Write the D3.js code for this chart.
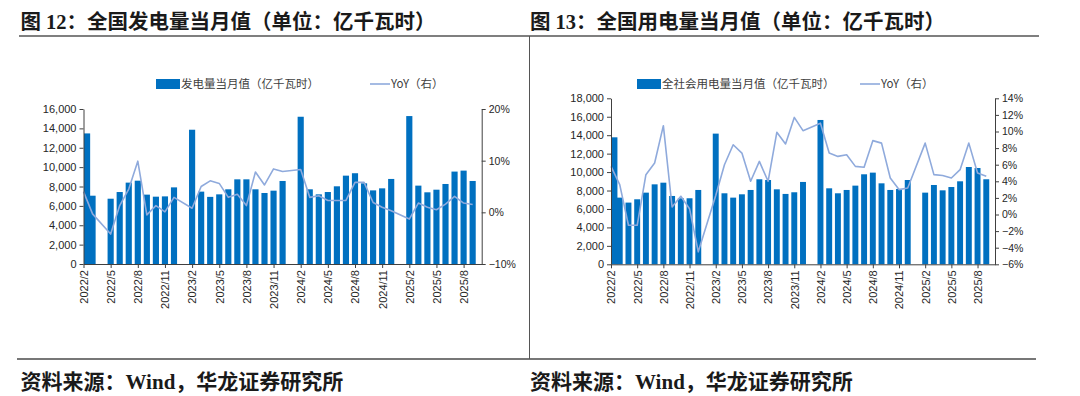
<!DOCTYPE html>
<html>
<head>
<meta charset="utf-8">
<script src="https://cdn.jsdelivr.net/npm/d3@7"></script>
<style>
  html, body { margin: 0; padding: 0; background: #fff; }
  svg { display: block; }
  .title { font-family: "Liberation Serif", "Noto Sans CJK SC", serif; font-weight: 700; font-size: 20.5px; fill: #1a1a1a; }
  .source { font-family: "Liberation Serif", "Noto Sans CJK SC", serif; font-weight: 700; font-size: 21px; fill: #1a1a1a; }
  .legend { font-family: "Noto Sans CJK SC", sans-serif; font-size: 11.5px; fill: #404040; }
  .axis text { font-family: "Liberation Sans", Arial, sans-serif; font-size: 11px; fill: #262626; }
  .axis.right text { font-size: 10.5px; }
  .axis path, .axis line { stroke: #404040; }
</style>
</head>
<body>
<svg id="chart" width="1080" height="396"></svg>
<script>
// Monthly categories, 2022/2 .. 2025/9 (January is merged into February, so it is blank).
const months = [
  "2022/2", "2022/3", "2022/4", "2022/5", "2022/6", "2022/7", "2022/8", "2022/9", "2022/10", "2022/11", "2022/12",
  "2023/1", "2023/2", "2023/3", "2023/4", "2023/5", "2023/6", "2023/7", "2023/8", "2023/9", "2023/10", "2023/11", "2023/12",
  "2024/1", "2024/2", "2024/3", "2024/4", "2024/5", "2024/6", "2024/7", "2024/8", "2024/9", "2024/10", "2024/11", "2024/12",
  "2025/1", "2025/2", "2025/3", "2025/4", "2025/5", "2025/6", "2025/7", "2025/8", "2025/9"
];
const tickMonths = [
  "2022/2", "2022/5", "2022/8", "2022/11", "2023/2", "2023/5", "2023/8", "2023/11",
  "2024/2", "2024/5", "2024/8", "2024/11", "2025/2", "2025/5", "2025/8"
];

// Fig 12: power generation, 亿千瓦时, and YoY %.
const genValues = [
  13480, 7050, null, 6740, 7430, 8400, 8600, 7160, 6950, 6980, 7910,
  null, 13860, 7470, 6930, 7190, 7710, 8740, 8740, 7710, 7330, 7570, 8570,
  null, 15200, 7710, 7190, 7430, 8020, 9120, 9370, 8330, 7600, 7810, 8780,
  null, 15270, 8090, 7400, 7670, 8260, 9540, 9640, 8570
];
const genYoY = [
  4.0, -0.3, null, -4.2, 1.3, 4.5, 9.9, -0.5, 1.3, 0.1, 2.9,
  null, 0.8, 5.0, 6.1, 5.6, 2.9, 3.5, 1.3, 7.8, 5.3, 8.4, 7.9,
  null, 8.3, 2.9, 3.2, 2.3, 2.3, 2.3, 5.8, 5.8, 1.9, 1.0, 0.3,
  null, -1.3, 1.8, 1.0, 0.5, 1.6, 3.1, 1.8, 1.5
];

// Fig 13: electricity consumption, 亿千瓦时, and YoY %.
const useValues = [
  13770, 7230, 6690, 7050, 7770, 8670, 8850, 7410, 7160, 7160, 8060,
  null, 14170, 7700, 7230, 7590, 8060, 9220, 9140, 8130, 7630, 7810, 8930,
  null, 15650, 8240, 7700, 8060, 8530, 9760, 9940, 8780, 8060, 8170, 9140,
  null, 7770, 8600, 8020, 8380, 9000, 10550, 10440, 9220
];
const useYoY = [
  5.8, 3.6, -1.3, -1.3, 4.8, 6.2, 10.7, 0.9, 2.2, 0.7, -4.5,
  null, 2.3, 6.0, 8.4, 7.4, 4.0, 6.4, 4.0, 9.9, 8.5, 11.7, 10.1,
  null, 11.0, 7.4, 7.0, 7.2, 5.8, 5.7, 8.9, 8.6, 4.4, 3.0, 3.2,
  null, 8.6, 4.8, 4.7, 4.4, 5.4, 8.6, 5.0, 4.6
];

const BAR_COLOR = "#0070C0";
const LINE_COLOR = "#8FAADC";

const svg = d3.select("#chart");

// Frame: rules under the titles, above the sources, and the middle divider.
svg.append("line").attr("x1", 19).attr("x2", 1039).attr("y1", 36).attr("y2", 36)
  .attr("stroke", "#555").attr("stroke-width", 1.5);
svg.append("line").attr("x1", 17).attr("x2", 1036).attr("y1", 359).attr("y2", 359)
  .attr("stroke", "#777").attr("stroke-width", 2);
svg.append("line").attr("x1", 529.5).attr("x2", 529.5).attr("y1", 36).attr("y2", 359)
  .attr("stroke", "#555").attr("stroke-width", 1);

function drawPanel(cfg) {
  const g = svg.append("g");

  g.append("text").attr("class", "title").attr("x", cfg.titleX).attr("y", 29).text(cfg.title);
  g.append("text").attr("class", "source").attr("x", cfg.titleX).attr("y", 389).text("资料来源：Wind，华龙证券研究所");

  // Month index 0 = 2022/2 sits on the left axis, the right axis is one month past the last bar.
  const x = d3.scaleLinear().domain([0, months.length]).range([cfg.left, cfg.right]);
  const y = d3.scaleLinear().domain([0, cfg.yMax]).range([cfg.bottom, cfg.top]);
  const y2 = d3.scaleLinear().domain(cfg.yoyDomain).range([cfg.bottom, cfg.top]);
  const bw = (x(1) - x(0)) * 0.68;

  const rows = months.map((m, i) => ({ m, i, v: cfg.values[i], yoy: cfg.yoy[i] }));

  g.append("g")
    .selectAll("rect")
    .data(rows.filter(d => d.v != null))
    .join("rect")
    .attr("x", d => Math.max(x(d.i) - bw / 2, cfg.left + 0.5))
    .attr("width", bw)
    .attr("y", d => y(d.v))
    .attr("height", d => y(0) - y(d.v))
    .attr("fill", BAR_COLOR);

  // Missing months are skipped, the line joins straight across them.
  const line = d3.line().x(d => x(d.i)).y(d => y2(d.yoy));
  g.append("path")
    .datum(rows.filter(d => d.yoy != null))
    .attr("d", line)
    .attr("fill", "none")
    .attr("stroke", LINE_COLOR)
    .attr("stroke-width", 1.6)
    .attr("stroke-linejoin", "round");

  // Axes.
  g.append("g")
    .attr("class", "axis")
    .attr("transform", `translate(${cfg.left},0)`)
    .call(d3.axisLeft(y).tickValues(d3.range(0, cfg.yMax + 1, 2000)).tickSize(4).tickSizeOuter(0)
      .tickFormat(d3.format(",")))
    .call(a => a.selectAll("text").attr("x", -7));

  g.append("g")
    .attr("class", "axis right")
    .attr("transform", `translate(${cfg.right},0)`)
    .call(d3.axisRight(y2).tickValues(cfg.yoyTicks).tickSize(4).tickSizeOuter(0)
      .tickFormat(d => d3.format("d")(d) + "%"))
    .call(a => a.selectAll("text").attr("x", 7));

  g.append("g")
    .attr("class", "axis")
    .attr("transform", `translate(0,${cfg.bottom})`)
    .call(d3.axisBottom(x).tickValues(tickMonths.map(t => months.indexOf(t))).tickSize(4).tickSizeOuter(0)
      .tickFormat(i => months[i]))
    .call(a => a.selectAll("text")
      .attr("transform", "rotate(-90)")
      .attr("text-anchor", "end")
      .attr("x", -6)
      .attr("y", 0)
      .attr("dy", "0.35em"));

  // Legend.
  const lg = g.append("g").attr("transform", `translate(0,${cfg.legendY})`);
  lg.append("rect").attr("x", cfg.legendX).attr("y", -5).attr("width", 24).attr("height", 10).attr("fill", BAR_COLOR);
  lg.append("text").attr("class", "legend").attr("x", cfg.legendX + 25).attr("dy", "0.36em").text(cfg.legendLabel);
  lg.append("line").attr("x1", cfg.lineLegendX).attr("x2", cfg.lineLegendX + 20)
    .attr("stroke", LINE_COLOR).attr("stroke-width", 1.6);
  lg.append("text").attr("class", "legend").attr("x", cfg.lineLegendX + 21).attr("dy", "0.36em").text("YoY（右）");
}

drawPanel({
  title: "图 12：全国发电量当月值（单位：亿千瓦时）",
  titleX: 20.5,
  legendLabel: "发电量当月值（亿千瓦时）",
  legendX: 156, lineLegendX: 370, legendY: 84,
  left: 83.5, right: 481.7, top: 109, bottom: 264,
  yMax: 16000,
  yoyDomain: [-10, 20], yoyTicks: [-10, 0, 10, 20],
  values: genValues, yoy: genYoY
});

drawPanel({
  title: "图 13：全国用电量当月值（单位：亿千瓦时）",
  titleX: 530,
  legendLabel: "全社会用电量当月值（亿千瓦时）",
  legendX: 637, lineLegendX: 860, legendY: 84,
  left: 611, right: 995, top: 98.3, bottom: 264.3,
  yMax: 18000,
  yoyDomain: [-6, 14], yoyTicks: [-6, -4, -2, 0, 2, 4, 6, 8, 10, 12, 14],
  values: useValues, yoy: useYoY
});
</script>
</body>
</html>
